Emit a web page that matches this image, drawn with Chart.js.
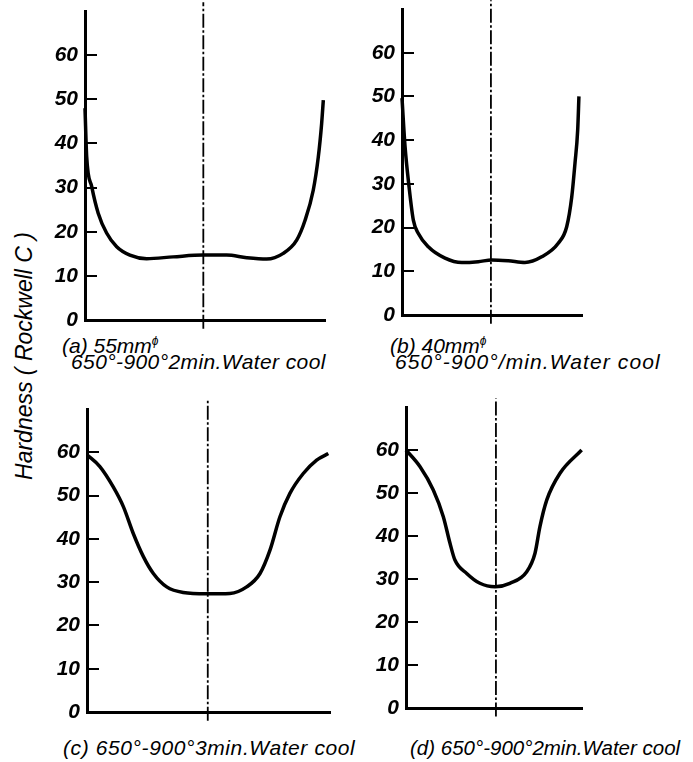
<!DOCTYPE html>
<html>
<head>
<meta charset="utf-8">
<script src="https://cdn.jsdelivr.net/npm/chart.js@4"></script>
<style>
  body { margin: 0; background: #fff; width: 693px; height: 762px; position: relative; overflow: hidden;
         font-family: "Liberation Sans", sans-serif; font-style: italic; color: #000; }
  canvas { position: absolute; }
  .cap { position: absolute; white-space: nowrap; font-size: 21px; line-height: 16px; }
  .cap sup { font-size: 12px; vertical-align: 8px; }
  #ytitle { position: absolute; left: 24px; top: 356px; transform: translate(-50%, -50%) rotate(-90deg);
            white-space: nowrap; font-size: 23px; }
</style>
</head>
<body>
<div id="ytitle">Hardness ( Rockwell C )</div>
<div class="cap" style="left:62px;top:333px">(a) 55mm<sup>ϕ</sup><br><span style="margin-left:9px;letter-spacing:0.4px">650°-900°2min.Water cool</span></div>
<div class="cap" style="left:390px;top:333px">(b) 40mm<sup>ϕ</sup><br><span style="margin-left:5px;letter-spacing:1.1px">650°-900°/min.Water cool</span></div>
<div class="cap" style="left:63px;top:740px;letter-spacing:0.6px">(c) 650°-900°3min.Water cool</div>
<div class="cap" style="left:410px;top:740px;font-size:20.5px">(d) 650°-900°2min.Water cool</div>

<script>
// hardness ticks (Rockwell C)
const yTicks = [0, 10, 20, 30, 40, 50, 60];

// position across the section (0 = left surface, 100 = right surface)
const xA = [0, 0.7, 2.8, 5.5, 9, 13.2, 18.7, 25.7, 36.7, 49.2, 59, 67.4, 75.7, 82.6, 88.2, 91.7, 95.1, 97.2, 98.6, 99.3];
const yA = [48, 37, 30.2, 24.2, 19.7, 16.6, 14.7, 13.9, 14.3, 14.7, 14.7, 14.1, 13.8, 15.1, 18.1, 22.6, 29.4, 36.9, 44.5, 49.8];

const xB = [0, 1.7, 3.9, 6.3, 9, 14.6, 23.9, 33.2, 42.4, 49.8, 59, 68.3, 77.6, 86.8, 91.5, 94.3, 96.1, 97.6, 98.3];
const yB = [49.6, 38.5, 29.4, 21.7, 18.7, 15.6, 13, 12, 12.2, 12.6, 12.4, 12, 13.3, 16.4, 20.2, 27, 34.7, 42.3, 50];

const xC = [0, 5.3, 10.8, 15, 19, 23.2, 27.3, 32.8, 39.6, 49.2, 58.8, 65.7, 71.2, 75.3, 79.4, 83.5, 89, 94.5, 99.3];
const yC = [59.4, 56.7, 52, 47.4, 41.3, 35.9, 32, 28.9, 27.6, 27.3, 27.4, 28.9, 32, 37.4, 45.1, 50.5, 55.1, 58.2, 59.7];

const xD = [0, 8, 15.5, 21.2, 25, 27.8, 34.5, 42, 50.6, 59, 68.6, 73.3, 76.1, 80, 87.5, 99.8];
const yD = [60, 56.1, 50.7, 44.5, 38.3, 34.4, 31.3, 29, 28.2, 29, 31.7, 36, 42.2, 48.4, 54.6, 60];

// centre line of the bar
const centreX = [49.3, 49.4, 49.7, 51.1];
const centreSpan = [-2, 72];

// where each panel's axes sit on the page
const panels = [
  { xs: xA, ys: yA, axisX: 85,  top: 11,  zero: 320, right: 325 },
  { xs: xB, ys: yB, axisX: 402, top: 9,   zero: 315, right: 582 },
  { xs: xC, ys: yC, axisX: 87,  top: 409, zero: 712, right: 330 },
  { xs: xD, ys: yD, axisX: 406, top: 407, zero: 708, right: 582 }
];

const YW = 40, PAD = 26, PR = 10;

panels.forEach((p, i) => {
  const canvas = document.createElement('canvas');
  canvas.width = p.right - p.axisX + YW + PR;
  canvas.height = p.zero - p.top + 2 * PAD;
  canvas.style.left = (p.axisX - YW) + 'px';
  canvas.style.top = (p.top - PAD) + 'px';
  document.body.appendChild(canvas);

  new Chart(canvas, {
    type: 'line',
    data: {
      datasets: [
        {
          data: p.xs.map((x, k) => ({ x: x, y: p.ys[k] })),
          borderColor: '#000',
          borderWidth: 3.5,
          pointRadius: 0,
          cubicInterpolationMode: 'monotone',
          fill: false,
          clip: false
        },
        {
          data: centreSpan.map(y => ({ x: centreX[i], y: y })),
          borderColor: '#000',
          borderWidth: 1.8,
          borderDash: [14, 2.5, 2.5, 2.5],
          pointRadius: 0,
          fill: false,
          clip: false
        }
      ]
    },
    options: {
      responsive: false,
      animation: false,
      layout: { padding: { top: PAD, bottom: PAD, left: 0, right: PR } },
      plugins: { legend: { display: false }, tooltip: { enabled: false } },
      scales: {
        x: {
          type: 'linear',
          min: 0,
          max: 100,
          ticks: { display: false },
          grid: { display: false },
          border: { display: true, color: '#000', width: 3 },
          afterFit: s => { s.height = 0; }
        },
        y: {
          type: 'linear',
          min: 0,
          max: 70,
          afterBuildTicks: s => { s.ticks = yTicks.map(v => ({ value: v })); },
          ticks: {
            color: '#000',
            padding: 7,
            font: { family: 'Liberation Sans', size: 21, style: 'italic', weight: 'bold' }
          },
          // grid lines cut to a short stub: tick marks pointing into the plot
          grid: { display: true, drawOnChartArea: true, drawTicks: false, lineWidth: 2, color: '#000' },
          border: { display: true, color: '#000', width: 3, dash: [10, 3000] },
          afterFit: s => { s.width = YW; }
        }
      }
    }
  });
});
</script>
</body>
</html>
